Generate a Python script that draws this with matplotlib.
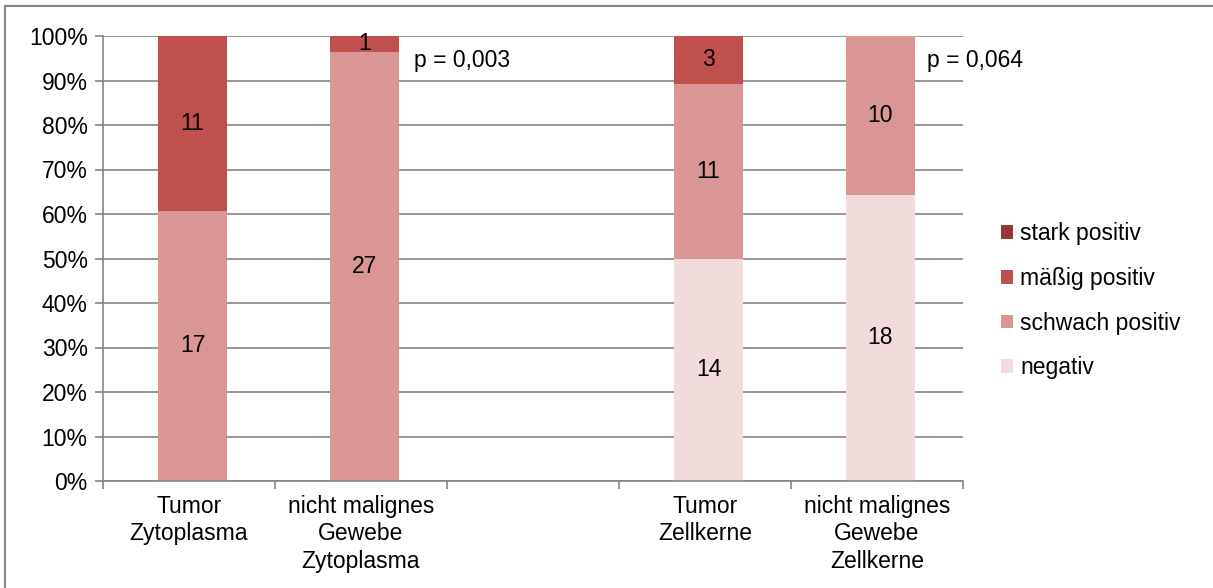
import matplotlib.pyplot as plt
import numpy as np
from matplotlib.patches import Rectangle

plt.rcParams['font.family'] = ['Liberation Sans', 'DejaVu Sans']
plt.rcParams['font.size'] = 16.5

# categories (empty slot in the middle)
categories = ['Tumor\nZytoplasma', 'nicht malignes\nGewebe\nZytoplasma', '',
              'Tumor\nZellkerne', 'nicht malignes\nGewebe\nZellkerne']
series = ['negativ', 'schwach positiv', 'mäßig positiv', 'stark positiv']
colors = ['#F2DCDB', '#D99694', '#C0504D', '#953735']

# counts per category
negativ = [0, 0, 0, 14, 18]
schwach = [17, 27, 0, 11, 10]
maessig = [11, 1, 0, 3, 0]
stark = [0, 0, 0, 0, 0]

p_labels = ['p = 0,003', 'p = 0,064']
p_pos = [1.31, 4.29]

counts = np.array([negativ, schwach, maessig, stark], dtype=float)
totals = counts.sum(axis=0)
totals[totals == 0] = 1
shares = counts / totals * 100

fig = plt.figure(figsize=(12.13, 5.88), dpi=100)
ax = fig.add_axes([103 / 1213, 1 - 481 / 588, (963 - 103) / 1213, (481 - 36) / 588])

x = np.arange(len(categories))
bottom = np.zeros(len(categories))
for i, name in enumerate(series):
    ax.bar(x + 0.02, shares[i], 0.4, bottom=bottom, color=colors[i], label=name, zorder=2)
    for j in range(len(categories)):
        if counts[i, j] > 0:
            ax.text(x[j] + 0.02, bottom[j] + shares[i, j] / 2, str(int(counts[i, j])),
                    ha='center', va='center', zorder=3)
    bottom += shares[i]

for txt, px in zip(p_labels, p_pos):
    ax.text(px, 94.5, txt, ha='left', va='center')

ax.set_xlim(-0.5, len(categories) - 0.5)
ax.set_ylim(0, 100)
ax.set_yticks(np.arange(0, 101, 10))
ax.set_yticklabels([f'{v}%' for v in range(0, 101, 10)])
ax.set_xticks(x)
ax.set_xticklabels(categories, linespacing=1.25)
ax.set_xticks(np.arange(-0.5, len(categories), 1), minor=True)
ax.tick_params(axis='x', which='major', length=0, pad=10)
ax.tick_params(axis='x', which='minor', length=6, color='#868686', width=1.2)
ax.tick_params(axis='y', length=6, color='#868686', width=1.2, pad=5)
ax.grid(axis='y', color='#868686', linewidth=1.2, zorder=0)
ax.set_axisbelow(True)
for s in ['top', 'right']:
    ax.spines[s].set_visible(False)
for s in ['left', 'bottom']:
    ax.spines[s].set_color('#868686')
    ax.spines[s].set_linewidth(1.2)

handles, labels = ax.get_legend_handles_labels()
ax.legend(handles[::-1], labels[::-1], loc='center left', bbox_to_anchor=(1.02, 0.405),
          frameon=False, handlelength=0.55, handleheight=0.55, handletextpad=0.3,
          labelspacing=0.95)

fig.patches.append(Rectangle((5 / 1213, -0.1), 1.2, 1 - 6 / 588 + 0.1,
                             transform=fig.transFigure, fill=False,
                             edgecolor='#868686', linewidth=1.5))

plt.savefig('out.png', dpi=100)
